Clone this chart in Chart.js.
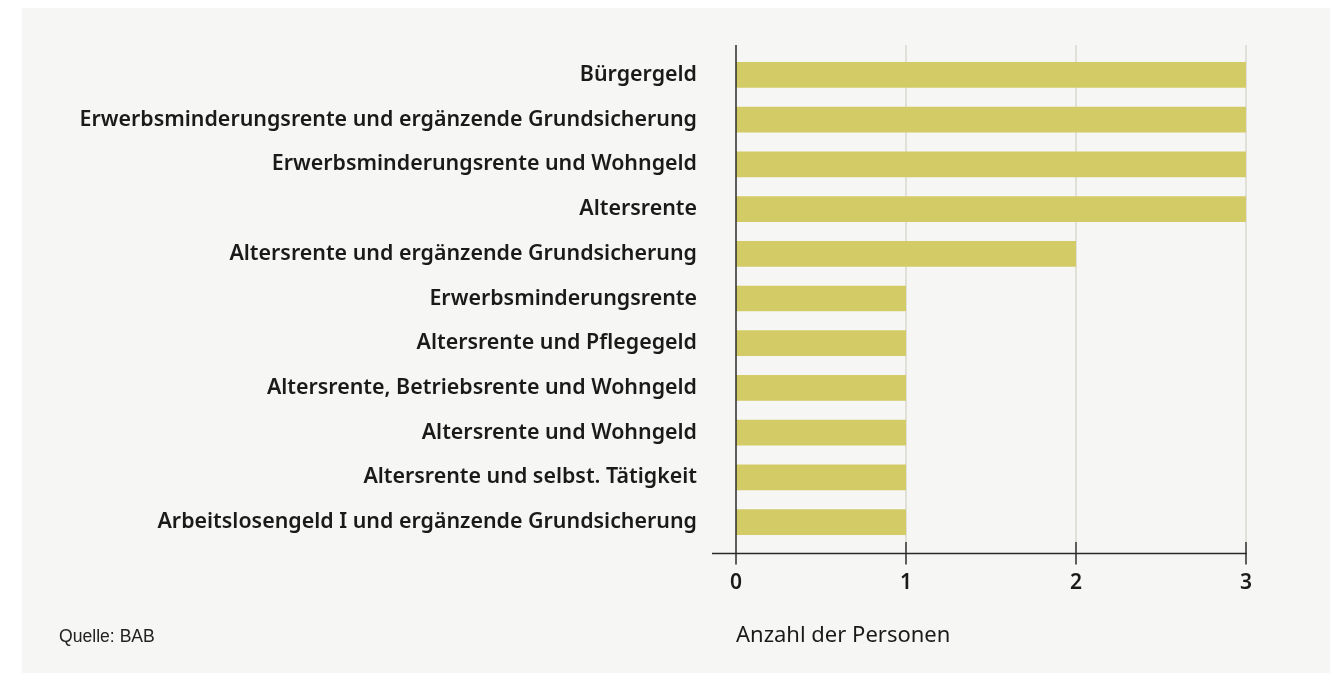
<!DOCTYPE html>
<html lang="de">
<head>
<meta charset="utf-8">
<title>Einkommensquellen</title>
<script src="https://cdn.jsdelivr.net/npm/chart.js@4"></script>
<style>
  body { margin: 0; background: #ffffff; }
  #panel { position: absolute; left: 22px; top: 8px; width: 1308px; height: 665px; background: #f6f6f4; }
  #wrap { position: absolute; left: 0; top: 0; width: 1341px; height: 673px; }
  #source { position: absolute; left: 59px; top: 626px; font: 17.6px "Liberation Sans", Arial, sans-serif; color: #222; }
</style>
</head>
<body>
<div id="panel"></div>
<div id="wrap"><canvas id="incomeChart"></canvas></div>
<div id="source">Quelle: BAB</div>
<script>
const categories = [
    'Bürgergeld',
    'Erwerbsminderungsrente und ergänzende Grundsicherung',
    'Erwerbsminderungsrente und Wohngeld',
    'Altersrente',
    'Altersrente und ergänzende Grundsicherung',
    'Erwerbsminderungsrente',
    'Altersrente und Pflegegeld',
    'Altersrente, Betriebsrente und Wohngeld',
    'Altersrente und Wohngeld',
    'Altersrente und selbst. Tätigkeit',
    'Arbeitslosengeld I und ergänzende Grundsicherung'
];
const personCounts = [3, 3, 3, 3, 2, 1, 1, 1, 1, 1, 1];
const xTicks = [0, 1, 2, 3];

const labelFont = '"Noto Sans", "Open Sans", sans-serif';

// gridlines and axis lines reach past the plot area, so they are drawn here
const axisLines = {
    id: 'axisLines',
    beforeDatasetsDraw(chart) {
        const { ctx, chartArea, scales: { x } } = chart;
        ctx.save();
        ctx.strokeStyle = '#d9d9d1';
        ctx.lineWidth = 1.5;
        xTicks.slice(1).forEach(v => {
            const px = x.getPixelForValue(v);
            ctx.beginPath();
            ctx.moveTo(px, chartArea.top - 7.5);
            ctx.lineTo(px, chartArea.bottom - 2.5);
            ctx.stroke();
        });
        ctx.restore();
    },
    afterDatasetsDraw(chart) {
        const { ctx, chartArea, scales: { x } } = chart;
        const base = chartArea.bottom + 9;
        ctx.save();
        ctx.strokeStyle = '#2a2a2a';
        ctx.lineWidth = 1.5;
        ctx.beginPath();
        ctx.moveTo(chartArea.left - 24, base);
        ctx.lineTo(chartArea.right + 0.75, base);
        ctx.stroke();
        xTicks.forEach(v => {
            const px = x.getPixelForValue(v);
            ctx.beginPath();
            ctx.moveTo(px, v === 0 ? chartArea.top - 7.5 : chartArea.bottom - 2.5);
            ctx.lineTo(px, base + 11);
            ctx.stroke();
        });
        ctx.restore();
    }
};

const ctx = document.getElementById('incomeChart').getContext('2d');
new Chart(ctx, {
    type: 'bar',
    data: {
        labels: categories,
        datasets: [{
            label: 'Anzahl der Personen',
            data: personCounts,
            backgroundColor: '#d3cb65',
            borderWidth: 0,
            categoryPercentage: 1,
            barPercentage: 0.575
        }]
    },
    options: {
        indexAxis: 'y',
        responsive: true,
        maintainAspectRatio: false,
        animation: false,
        layout: { padding: { top: 52.6, right: 95, bottom: 0, left: 0 } },
        plugins: {
            legend: { display: false },
            tooltip: { enabled: false }
        },
        scales: {
            x: {
                min: 0,
                max: 3,
                afterFit: scale => { scale.height = 128.6; },
                afterBuildTicks: scale => { scale.ticks = xTicks.map(v => ({ value: v })); },
                grid: { display: false },
                border: { display: false },
                ticks: {
                    padding: 18,
                    color: '#1a1a1a',
                    font: { family: labelFont, size: 21, weight: '600' }
                },
                title: {
                    display: true,
                    text: 'Anzahl der Personen',
                    align: 'start',
                    color: '#1a1a1a',
                    padding: { top: 0, bottom: 24 },
                    font: { family: labelFont, size: 22, weight: '400' }
                }
            },
            y: {
                afterFit: scale => { scale.width = 736; },
                grid: { display: false },
                border: { display: false },
                ticks: {
                    padding: 31,
                    color: '#1a1a1a',
                    font: { family: labelFont, size: 21.4, weight: '600' }
                }
            }
        }
    },
    plugins: [axisLines]
});
</script>
</body>
</html>
